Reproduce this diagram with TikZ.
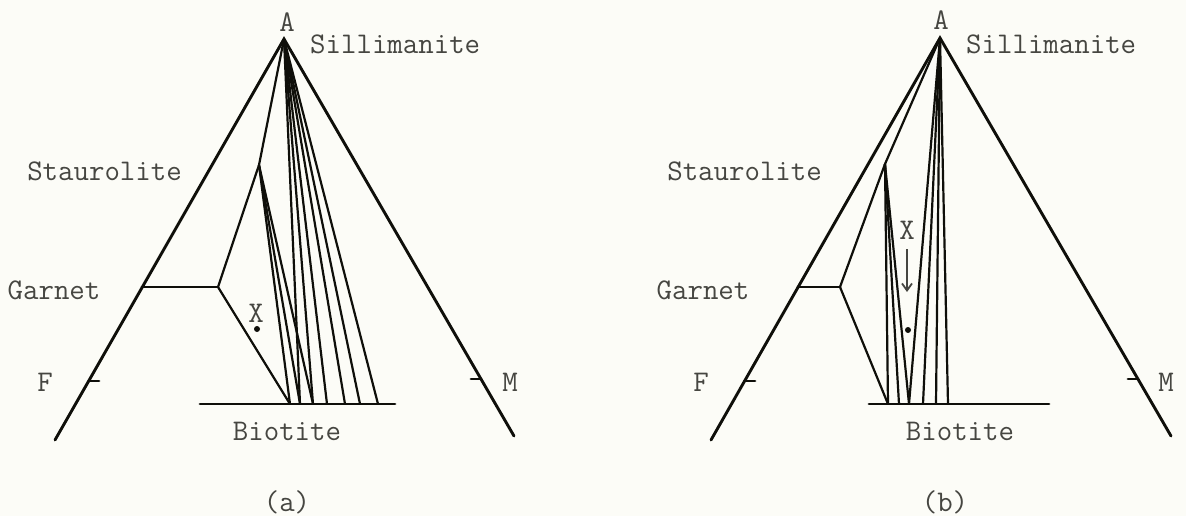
\documentclass[tikz,border=0pt]{standalone}
\usetikzlibrary{arrows.meta}
\definecolor{bg}{RGB}{252,252,247}
\definecolor{ink}{RGB}{15,15,10}
\definecolor{labelgray}{RGB}{70,70,65}
\newcommand\lbfont{\fontsize{30}{31}\selectfont\ttfamily}
\tikzset{
  side/.style={line width=2.9pt, draw=ink, line cap=round},
  tie/.style={line width=2.2pt, draw=ink},
  lbl/.style={font=\lbfont, text=labelgray, inner sep=0pt},
  dotmark/.style={circle, fill=ink, inner sep=0pt, minimum size=6pt}
}
\begin{document}
\begin{tikzpicture}[x=1pt,y=-1pt]
\fill[bg] (0,0) rectangle (1186,516);
\useasboundingbox (0,0) rectangle (1186,516);

% ---------------- panel (a) ----------------
\coordinate (aA) at (284,39);
\coordinate (aL) at (55,440);
\coordinate (aR) at (514,436);
\coordinate (aF) at (88.7,381);
\coordinate (aFt) at (99,381);
\coordinate (aM) at (481,379);
\coordinate (aMt) at (471,379);
\coordinate (aG) at (142,287);
\coordinate (aGc) at (218,287);
\coordinate (aS) at (259,165);
\coordinate (aB1) at (200,404);
\coordinate (aB2) at (395,404);
\coordinate (ab1) at (290,404);
\coordinate (ab2) at (300,404);
\coordinate (ab3) at (313,404);
\coordinate (ab4) at (327,404);
\coordinate (ab5) at (345,404);
\coordinate (ab6) at (360,404);
\coordinate (ab7) at (378,404);

\draw[side] (aL) -- (aA) -- (aR);
\draw[side] (aF) -- (aFt);
\draw[side] (aM) -- (aMt);
\draw[side] (aG) -- (aGc);
\draw[side] (aB1) -- (aB2);
\draw[tie] (aA) -- (aS) -- (aGc) -- (ab1);
\foreach \p in {ab1,ab2,ab3} \draw[tie] (aS) -- (\p);
\foreach \p in {ab2,ab3,ab4,ab5,ab6,ab7} \draw[tie] (aA) -- (\p);

\node[lbl] (aAl) at (287,22) {A};
\node[lbl, anchor=west] (aSil) at (310,44) {Sillimanite};
\node[lbl, anchor=east] (aSta) at (182,171) {Staurolite};
\node[lbl] (aGar) at (54,290) {Garnet};
\node[lbl] (aFl) at (45,382) {F};
\node[lbl] (aMl) at (510,382) {M};
\node[lbl] (aX) at (256,313) {X};
\node[dotmark] (aDot) at (257,329) {};
\node[lbl] (aBio) at (287,431) {Biotite};
\node[lbl] (aCap) at (287,502) {(a)};

% ---------------- panel (b) ----------------
\coordinate (bA) at (940,38);
\coordinate (bL) at (711,440);
\coordinate (bR) at (1171,436);
\coordinate (bF) at (744.6,381);
\coordinate (bFt) at (755,381);
\coordinate (bM) at (1138,379);
\coordinate (bMt) at (1128,379);
\coordinate (bG) at (798,287);
\coordinate (bGc) at (840,287);
\coordinate (bS) at (885,164);
\coordinate (bB1) at (869,404);
\coordinate (bB2) at (1049,404);
\coordinate (bb1) at (888,404);
\coordinate (bb2) at (899,404);
\coordinate (bb3) at (909,404);
\coordinate (bb4) at (923,404);
\coordinate (bb5) at (936,404);
\coordinate (bb6) at (948,404);

\draw[side] (bL) -- (bA) -- (bR);
\draw[side] (bF) -- (bFt);
\draw[side] (bM) -- (bMt);
\draw[side] (bG) -- (bGc);
\draw[side] (bB1) -- (bB2);
\draw[tie] (bA) -- (bS) -- (bGc) -- (bb1);
\foreach \p in {bb1,bb2,bb3} \draw[tie] (bS) -- (\p);
\foreach \p in {bb3,bb4,bb5,bb6} \draw[tie] (bA) -- (\p);

\node[lbl] (bAl) at (941,20) {A};
\node[lbl, anchor=west] (bSil) at (966,44) {Sillimanite};
\node[lbl, anchor=east] (bSta) at (822,171) {Staurolite};
\node[lbl] (bGar) at (703,290) {Garnet};
\node[lbl] (bFl) at (701,382) {F};
\node[lbl] (bMl) at (1166,382) {M};
\node[lbl] (bX) at (907,230) {X};
\coordinate (bArS) at (907,249);
\coordinate (bArE) at (907,292);
\draw[line width=1.8pt, draw=labelgray, -{Straight Barb[length=7pt,width=10pt]}] (bArS) -- (bArE);
\node[dotmark] (bDot) at (908,330) {};
\node[lbl] (bBio) at (960,431) {Biotite};
\node[lbl] (bCap) at (945,502) {(b)};
\end{tikzpicture}
\end{document}
